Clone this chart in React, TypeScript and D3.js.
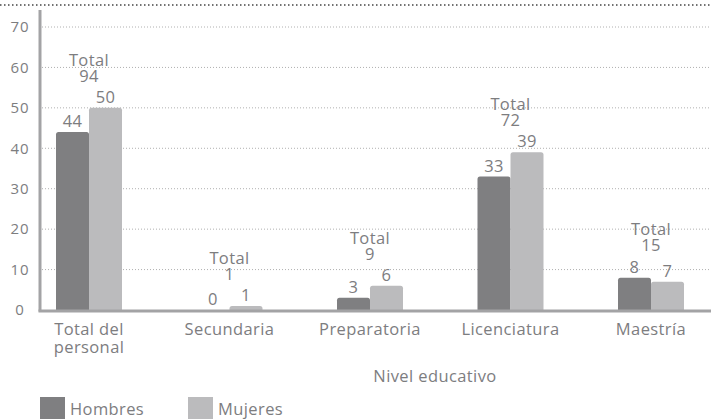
import React, { useEffect, useRef } from 'react'
import * as d3 from 'd3'

const categories = ['Total del personal', 'Secundaria', 'Preparatoria', 'Licenciatura', 'Maestría']
const categoryLines = [['Total del', 'personal'], ['Secundaria'], ['Preparatoria'], ['Licenciatura'], ['Maestría']]
const hombres = [44, 0, 3, 33, 8]
const mujeres = [50, 1, 6, 39, 7]
const totals = [94, 1, 9, 72, 15]
const yTicks = [0, 10, 20, 30, 40, 50, 60, 70]
const seriesNames = ['Hombres', 'Mujeres']

const App = () => {
  const chartRef = useRef<SVGSVGElement | null>(null)

  useEffect(() => {
    if (!chartRef.current) return
    const width = 711
    const height = 419
    const font = '"Open Sans", Lato, sans-serif'
    const textColor = '#7d7d7f'
    const colors = ['#7f7f81', '#bbbbbd']
    const axisLeft = 40
    const barW = 33

    const svg = d3.select(chartRef.current)
    svg.selectAll('*').remove()
    svg.attr('width', width).attr('height', height)

    const y = d3.scaleLinear().domain([0, 70]).range([310, 27])
    const x = d3.scalePoint<string>().domain(categories).range([89, 651])

    const label = (sel: any, size = 16.5) =>
      sel.style('font-family', font).style('font-size', `${size}px`)
          .style('letter-spacing', '0.4px').style('fill', textColor)

    // top dotted rule
    svg.append('line')
        .attr('x1', 0).attr('x2', width).attr('y1', 5).attr('y2', 5)
        .attr('stroke', '#444').attr('stroke-width', 1.5).attr('stroke-dasharray', '1.5,2.5')

    // gridlines
    svg.append('g').selectAll('line')
        .data(yTicks.filter(d => d > 0))
        .enter().append('line')
        .attr('x1', axisLeft + 2).attr('x2', width)
        .attr('y1', d => y(d)).attr('y2', d => y(d))
        .attr('stroke', '#b0b0b0').attr('stroke-width', 1).attr('stroke-dasharray', '1,2')

    label(svg.append('g').selectAll('text')
        .data(yTicks)
        .enter().append('text')
        .attr('x', 20).attr('y', d => y(d))
        .attr('dy', '0.35em')
        .attr('text-anchor', 'middle')
        .text(d => d), 15).style('letter-spacing', '1px')

    const series = [hombres, mujeres]
    series.forEach((vals, s) => {
      const g = svg.append('g')
      g.selectAll('path')
          .data(vals)
          .enter().append('path')
          .attr('fill', colors[s])
          .attr('d', (d, i) => {
            const x0 = (x(categories[i]) as number) - barW + s * barW
            const y0 = y(d)
            const h = y(0) - y0
            const r = Math.min(2.5, h)
            return `M${x0},${y(0)}V${y0 + r}Q${x0},${y0} ${x0 + r},${y0}H${x0 + barW - r}Q${x0 + barW},${y0} ${x0 + barW},${y0 + r}V${y(0)}Z`
          })
      label(g.selectAll('text')
          .data(vals)
          .enter().append('text')
          .attr('x', (d, i) => (x(categories[i]) as number) - barW / 2 + s * barW)
          .attr('y', d => y(d) - 5)
          .attr('text-anchor', 'middle')
          .text(d => d))
    })

    // totals
    const tg = svg.append('g')
    totals.forEach((t, i) => {
      const top = y(Math.max(hombres[i], mujeres[i]))
      const cx = x(categories[i]) as number
      label(tg.append('text')
          .attr('x', cx).attr('y', top - 48).attr('dy', '0.35em')
          .attr('text-anchor', 'middle')
          .text('Total'))
      label(tg.append('text')
          .attr('x', cx).attr('y', top - 32).attr('dy', '0.35em')
          .attr('text-anchor', 'middle')
          .text(t))
    })

    // axes
    svg.append('line')
        .attr('x1', axisLeft).attr('x2', axisLeft).attr('y1', 10).attr('y2', 311.5)
        .attr('stroke', '#a3a3a5').attr('stroke-width', 3)
    svg.append('line')
        .attr('x1', axisLeft - 1.5).attr('x2', width).attr('y1', 311).attr('y2', 311)
        .attr('stroke', '#a3a3a5').attr('stroke-width', 3)

    // category labels
    categoryLines.forEach((lines, i) => {
      lines.forEach((ln, j) => {
        label(svg.append('text')
            .attr('x', x(categories[i]) as number)
            .attr('y', 329 + j * 18).attr('dy', '0.35em')
            .attr('text-anchor', 'middle')
            .text(ln))
      })
    })

    label(svg.append('text')
        .attr('x', 435).attr('y', 376).attr('dy', '0.35em')
        .attr('text-anchor', 'middle')
        .text('Nivel educativo'))

    // legend
    const legend = svg.append('g').attr('transform', 'translate(40, 397)')
    const items = legend.selectAll('g')
        .data(seriesNames)
        .enter().append('g')
        .attr('transform', (d, i) => `translate(${i * 148}, 0)`)
    items.append('rect')
        .attr('width', 25).attr('height', 22)
        .attr('fill', (d, i) => colors[i])
    label(items.append('text')
        .attr('x', 30).attr('y', 12).attr('dy', '0.35em')
        .text(d => d))
  }, [])

  return (
      <svg ref={chartRef} style={{ position: 'absolute', left: 0, top: 0, display: 'block', background: '#fff' }} />
  )
}

export default App
